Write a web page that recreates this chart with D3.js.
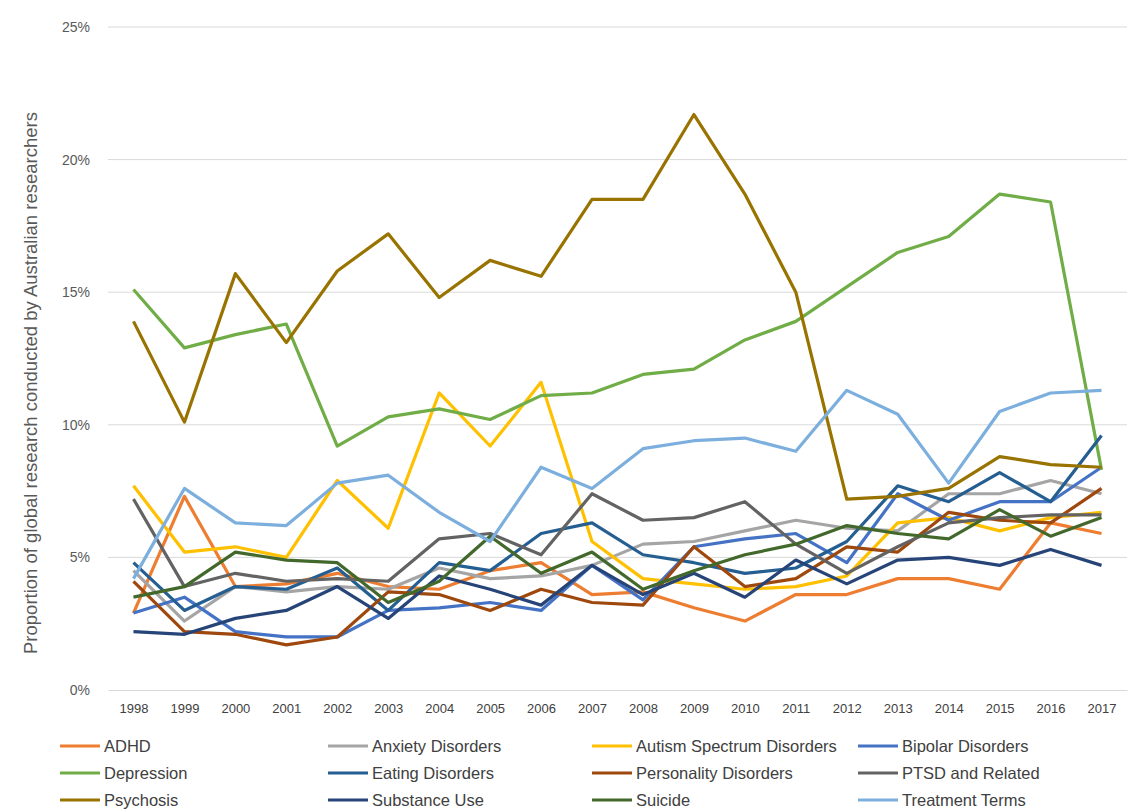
<!DOCTYPE html>
<html><head><meta charset="utf-8">
<script src="https://cdn.jsdelivr.net/npm/d3@7"></script>
<style>body{margin:0;background:#fff;font-family:"Liberation Sans",Arial,sans-serif}</style>
</head><body><svg id="c" width="1136" height="811"></svg>
<script>
const years = d3.range(1998, 2018).map(String);
const seriesNames = ["ADHD","Anxiety Disorders","Autism Spectrum Disorders","Bipolar Disorders","Depression","Eating Disorders","Personality Disorders","PTSD and Related","Psychosis","Substance Use","Suicide","Treatment Terms"];
const colors = ["#ed7d31","#a5a5a5","#ffc000","#4472c4","#70ad47","#255e91","#9e480e","#636363","#997300","#264478","#43682b","#7cafdd"];
const adhd = [2.9,7.3,3.9,4.0,4.4,3.9,3.8,4.5,4.8,3.6,3.7,3.1,2.6,3.6,3.6,4.2,4.2,3.8,6.3,5.9];
const anxiety = [4.5,2.6,3.9,3.7,3.9,3.8,4.6,4.2,4.3,4.7,5.5,5.6,6.0,6.4,6.1,6.0,7.4,7.4,7.9,7.4];
const autism = [7.7,5.2,5.4,5.0,7.9,6.1,11.2,9.2,11.6,5.6,4.2,4.0,3.8,3.9,4.3,6.3,6.5,6.0,6.5,6.7];
const bipolar = [2.9,3.5,2.2,2.0,2.0,3.0,3.1,3.3,3.0,4.7,3.4,5.4,5.7,5.9,4.8,7.4,6.4,7.1,7.1,8.4];
const depression = [15.1,12.9,13.4,13.8,9.2,10.3,10.6,10.2,11.1,11.2,11.9,12.1,13.2,13.9,15.2,16.5,17.1,18.7,18.4,8.3];
const eating = [4.8,3.0,3.9,3.8,4.6,3.0,4.8,4.5,5.9,6.3,5.1,4.8,4.4,4.6,5.6,7.7,7.1,8.2,7.1,9.6];
const personality = [4.1,2.2,2.1,1.7,2.0,3.7,3.6,3.0,3.8,3.3,3.2,5.4,3.9,4.2,5.4,5.2,6.7,6.4,6.3,7.6];
const ptsd = [7.2,3.9,4.4,4.1,4.2,4.1,5.7,5.9,5.1,7.4,6.4,6.5,7.1,5.5,4.4,5.4,6.3,6.5,6.6,6.6];
const psychosis = [13.9,10.1,15.7,13.1,15.8,17.2,14.8,16.2,15.6,18.5,18.5,21.7,18.7,15.0,7.2,7.3,7.6,8.8,8.5,8.4];
const substance = [2.2,2.1,2.7,3.0,3.9,2.7,4.3,3.8,3.2,4.7,3.6,4.4,3.5,4.9,4.0,4.9,5.0,4.7,5.3,4.7];
const suicide = [3.5,3.9,5.2,4.9,4.8,3.3,4.1,5.8,4.4,5.2,3.8,4.5,5.1,5.5,6.2,5.9,5.7,6.8,5.8,6.5];
const treatment = [4.2,7.6,6.3,6.2,7.8,8.1,6.7,5.6,8.4,7.6,9.1,9.4,9.5,9.0,11.3,10.4,7.8,10.5,11.2,11.3];
const allSeries = [adhd,anxiety,autism,bipolar,depression,eating,personality,ptsd,psychosis,substance,suicide,treatment];
const yTicks = [0,5,10,15,20,25];

const svg = d3.select("#c");
const plotL = 108, plotR = 1127, plotT = 27, plotB = 690;
const x = d3.scalePoint().domain(years).range([plotL, plotR]).padding(0.5);
const y = d3.scaleLinear().domain([0, 25]).range([plotB, plotT]);

svg.append("g").selectAll("line").data(yTicks.slice(1)).enter().append("line")
    .attr("x1", plotL).attr("x2", plotR)
    .attr("y1", d => y(d)).attr("y2", d => y(d))
    .style("stroke", "#d9d9d9").style("stroke-width", 1);

const yAxis = svg.append("g").attr("transform", "translate(" + plotL + ",0)")
    .call(d3.axisLeft(y).tickValues(yTicks).tickFormat(d => d + "%").tickSize(0).tickPadding(18));
yAxis.select(".domain").remove();
yAxis.selectAll("text").style("font-size", "14px").style("fill", "#595959").style("font-family", "inherit");

const xAxis = svg.append("g").attr("transform", "translate(0," + plotB + ")")
    .call(d3.axisBottom(x).tickSize(0).tickPadding(14));
xAxis.select(".domain").style("stroke", "#d9d9d9");
xAxis.selectAll("text").style("font-size", "13px").style("fill", "#404040").style("font-family", "inherit");

svg.append("text")
    .attr("transform", "translate(37," + 383 + ") rotate(-90)")
    .attr("text-anchor", "middle")
    .style("font-size", "18.5px").style("fill", "#595959")
    .text("Proportion  of global research conducted by Australian researchers");

const line = d3.line().x((d, i) => x(years[i])).y(d => y(d));
svg.append("g").selectAll("path").data(allSeries).enter().append("path")
    .attr("d", line)
    .style("fill", "none")
    .style("stroke", (d, i) => colors[i])
    .style("stroke-width", 3.2)
    .style("stroke-linejoin", "round");

const colX = [60, 328, 592, 858], rowY = [746, 773, 800];
const lg = svg.append("g").selectAll("g").data(seriesNames).enter().append("g")
    .attr("transform", (d, i) => "translate(" + colX[i % 4] + "," + rowY[Math.floor(i / 4)] + ")");
lg.append("line").attr("x1", 0).attr("x2", 40)
    .style("stroke", (d, i) => colors[i]).style("stroke-width", 3.2);
lg.append("text").attr("x", 44).attr("dy", "0.35em")
    .style("font-size", "16.5px").style("fill", "#404040")
    .text(d => d);
</script></body></html>
